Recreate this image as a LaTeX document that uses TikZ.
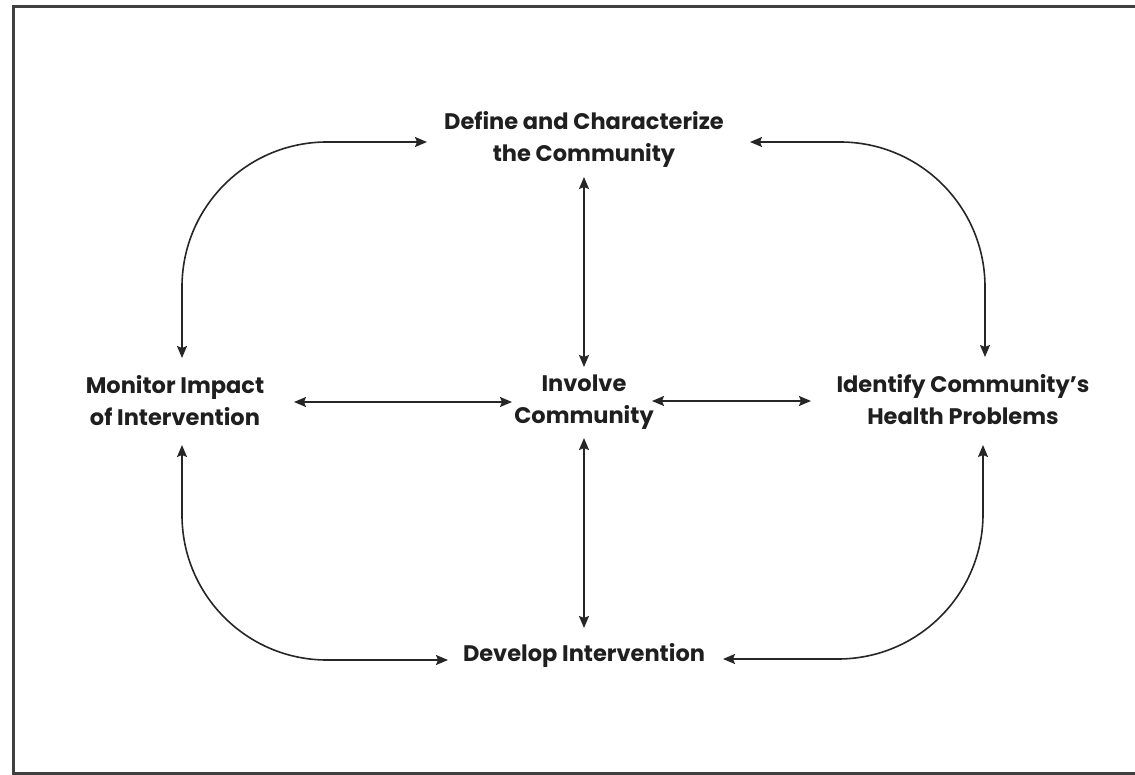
\documentclass[tikz,border=0pt]{standalone}
\usepackage{fontspec}
\setmainfont{Poppins}[UprightFont=* Bold]
\usetikzlibrary{arrows.meta}
\begin{document}
\begin{tikzpicture}[x=1pt,y=1pt,
  stagelabel/.style={align=center, inner sep=0pt, text=black!88,
    font=\fontsize{22.5}{32}\selectfont},
  link/.style={line width=1.6pt, draw=black!85,
    {Stealth[length=12pt,width=10pt,inset=2pt]}-{Stealth[length=12pt,width=10pt,inset=2pt]}},
  loop/.style={link, rounded corners=145pt},
  frameline/.style={line width=3pt, draw=black!75}]
\useasboundingbox (0,0) rectangle (1135,-775);
\begin{scope}
  \clip (0,0) rectangle (1135,-775);
  \draw[frameline] (13,-7) rectangle (1160,-773);
\end{scope}

% stages of the cycle
\node[stagelabel] (define)   at (584,-139) {Define and Characterize\\the Community};
\node[stagelabel] (involve)  at (584,-402) {Involve\\Community};
\node[stagelabel] (monitor)  at (175,-401) {Monitor Impact\\of Intervention};
\node[stagelabel] (identify) at (963,-400) {Identify Community's\\Health Problems};
\node[stagelabel] (develop)  at (584,-655) {Develop Intervention};

% outer ring of two-way links, each a rounded corner
\draw[loop] ([shift={(-157,-3)}]define.center) -| ([shift={(7,43)}]monitor.center);
\draw[loop] ([shift={(166,-3)}]define.center) -| ([shift={(22,43)}]identify.center);
\draw[loop] ([shift={(7,-44)}]monitor.center) |- ([shift={(-136,-5)}]develop.center);
\draw[loop] ([shift={(139,-4)}]develop.center) -| ([shift={(20,-45)}]identify.center);

% spokes to the centre
\draw[link] ([yshift=-38]define.center) -- ([yshift=35]involve.center);
\draw[link] ([yshift=-36]involve.center) -- ([yshift=27]develop.center);
\draw[link] ([shift={(119,-1)}]monitor.center) -- ([xshift=-72]involve.center);
\draw[link] ([shift={(68,1)}]involve.center) -- ([shift={(-152,-1)}]identify.center);
\end{tikzpicture}
\end{document}
